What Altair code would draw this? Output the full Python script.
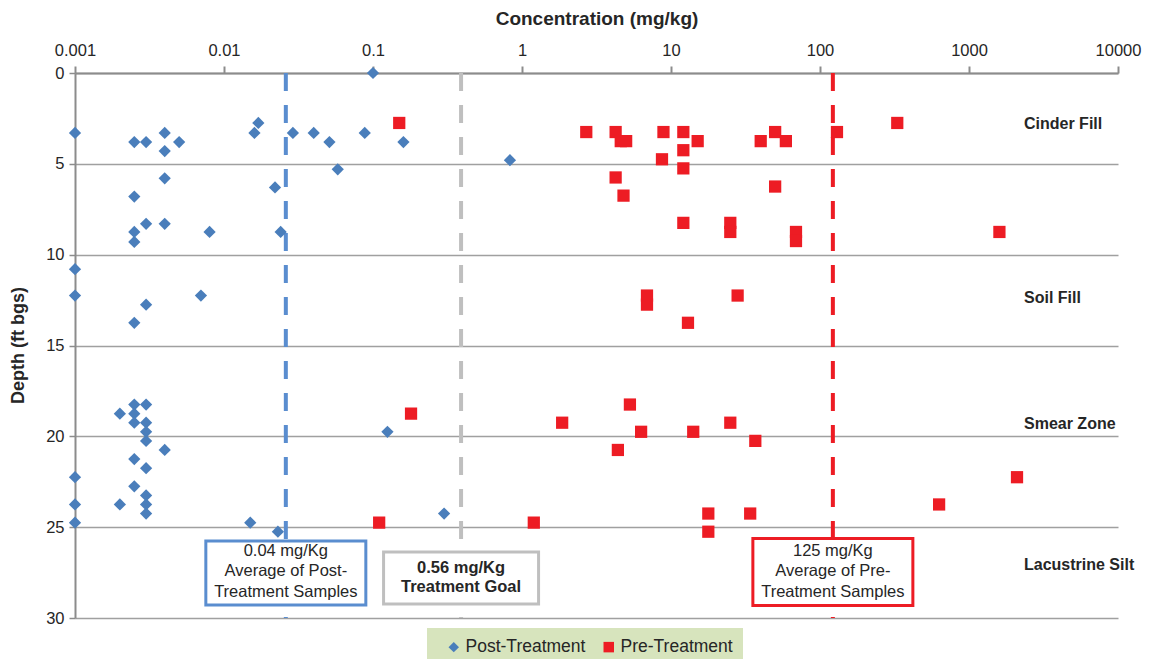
import altair as alt
import pandas as pd

# ---------------- data ----------------
post_conc = [0.1, 0.001, 0.0025, 0.003, 0.004, 0.005, 0.004, 0.004, 0.0025, 0.003, 0.004, 0.0025, 0.0025, 0.008,
             0.016, 0.017, 0.022, 0.024, 0.029, 0.04, 0.051, 0.058, 0.088, 0.16, 0.83,
             0.001, 0.001, 0.007, 0.003, 0.0025,
             0.0025, 0.003, 0.002, 0.0025, 0.0025, 0.003, 0.003, 0.003, 0.004, 0.0025, 0.003, 0.001, 0.0025, 0.003,
             0.001, 0.002, 0.003, 0.003, 0.001, 0.015, 0.023, 0.125, 0.3]
post_depth = [0, 3.3, 3.8, 3.8, 3.3, 3.8, 4.3, 5.8, 6.8, 8.3, 8.3, 8.75, 9.3, 8.75,
              3.3, 2.75, 6.3, 8.75, 3.3, 3.3, 3.8, 5.3, 3.3, 3.8, 4.8,
              10.8, 12.25, 12.25, 12.75, 13.75,
              18.25, 18.25, 18.75, 18.75, 19.25, 19.25, 19.75, 20.25, 20.75, 21.25, 21.75, 22.25, 22.75, 23.25,
              23.75, 23.75, 23.75, 24.25, 24.75, 24.75, 25.25, 19.75, 24.25]

pre_conc = [0.15, 2.7, 4.25, 4.6, 5.0, 8.9, 4.25, 4.8, 8.7, 12.1, 15.1, 12.1, 12.1, 40, 50, 59, 130, 330, 50,
            12.1, 25, 25, 69, 69, 1600,
            6.9, 6.9, 28, 13,
            0.18, 1.86, 5.3, 6.3, 4.4, 14.1, 25, 36.8,
            0.11, 1.2, 17.8, 17.8, 34, 630, 2100]
pre_depth = [2.75, 3.25, 3.25, 3.75, 3.75, 3.25, 5.75, 6.75, 4.75, 3.25, 3.75, 4.25, 5.25, 3.75, 3.25, 3.75, 3.25, 2.75, 6.25,
             8.25, 8.25, 8.75, 8.75, 9.25, 8.75,
             12.25, 12.75, 12.25, 13.75,
             18.75, 19.25, 18.25, 19.75, 20.75, 19.75, 19.25, 20.25,
             24.75, 24.75, 24.25, 25.25, 24.25, 23.75, 22.25]

series_names = ["Post-Treatment", "Pre-Treatment"]

ref_values = [0.026, 0.39, 122]
ref_text = [["0.04 mg/Kg", "Average of Post-", "Treatment Samples"],
            ["0.56 mg/Kg", "Treatment Goal"],
            ["125 mg/Kg", "Average of Pre-", "Treatment Samples"]]
ref_text_depth = [26.31, 27.24, 26.31]
ref_box_depth = [27.52, 27.8, 27.47]

zones = ["Cinder Fill", "Soil Fill", "Smear Zone", "Lacustrine Silt"]
zone_depth = [2.8, 12.38, 19.3, 27.08]

x_ticks = [0.001, 0.01, 0.1, 1, 10, 100, 1000, 10000]
y_ticks = [0, 5, 10, 15, 20, 25, 30]

# ---------------- styles ----------------
FONT = "Liberation Sans"
TXT = "#262626"
series_colors = ["#4a7ebb", "#ed1c24"]
series_shapes = ["diamond", "square"]
ref_colors = ["#5a8dcf", "#bfbfbf", "#ed1c24"]
ref_bold = [False, True, False]
box_w = [160, 155, 160]
box_h = [64, 52, 67]

points = pd.concat([
    pd.DataFrame({"conc": post_conc, "depth": post_depth, "series": series_names[0]}),
    pd.DataFrame({"conc": pre_conc, "depth": pre_depth, "series": series_names[1]}),
])

xscale = alt.Scale(type="log", domain=[0.001, 10000], nice=False)
yscale = alt.Scale(domain=[0, 30], reverse=True, nice=False)

x_axis = alt.Axis(orient="top", values=x_ticks, format="~g", grid=False,
                  domainColor="#8c8c8c", domainWidth=2, tickColor="#8c8c8c", tickWidth=2, tickSize=7,
                  labelFont=FONT, labelFontSize=16.5, labelColor=TXT, labelPadding=8,
                  labelFlush=False, labelOverlap=False,
                  title="Concentration (mg/kg)", titleFont=FONT, titleFontSize=19,
                  titleFontWeight="bold", titleColor=TXT, titleY=-55, titleBaseline="middle")
y_axis = alt.Axis(values=y_ticks, grid=True, gridColor="#a0a0a0", gridWidth=1.5,
                  domainColor="#8c8c8c", domainWidth=2, tickColor="#8c8c8c", tickWidth=1.5, tickSize=6,
                  labelFont=FONT, labelFontSize=16.5, labelColor=TXT, labelPadding=5,
                  title="Depth (ft bgs)", titleFont=FONT, titleFontSize=18,
                  titleFontWeight="bold", titleColor=TXT, titleAngle=270, titleAlign="center",
                  titleBaseline="middle", titleX=-57, titleY=272)

legend = alt.Legend(orient="none", legendX=352, legendY=555, direction="horizontal",
                    fillColor="#d7e4bd", padding=10, symbolOffset=8,
                    labelFont=FONT, labelFontSize=17.5, labelColor=TXT,
                    symbolSize=110, title=None, columnPadding=6, labelOffset=3,
                    symbolStrokeWidth=0)

layers = []

# reference dashed lines
for v, c in zip(ref_values, ref_colors):
    layers.append(
        alt.Chart(pd.DataFrame({"conc": [v]})).mark_rule(color=c, strokeWidth=4, strokeDash=[18, 14])
        .encode(x=alt.X("conc:Q", scale=xscale, axis=x_axis))
    )

# data points
layers.append(
    alt.Chart(points).mark_point(filled=True, opacity=1, size=150, strokeWidth=0).encode(
        x=alt.X("conc:Q", scale=xscale, axis=x_axis),
        y=alt.Y("depth:Q", scale=yscale, axis=y_axis),
        color=alt.Color("series:N", scale=alt.Scale(domain=series_names, range=series_colors), legend=legend),
        shape=alt.Shape("series:N", scale=alt.Scale(domain=series_names, range=series_shapes), legend=legend),
    )
)

# annotation boxes and text
for v, c, bw, bh, bd, td, lines, bold in zip(ref_values, ref_colors, box_w, box_h, ref_box_depth,
                                            ref_text_depth, ref_text, ref_bold):
    layers.append(
        alt.Chart(pd.DataFrame({"conc": [v], "depth": [bd]}))
        .mark_rect(width=bw, height=bh, fill="white", stroke=c, strokeWidth=3)
        .encode(x=alt.X("conc:Q", scale=xscale, axis=x_axis),
                y=alt.Y("depth:Q", scale=yscale, axis=y_axis))
    )
    layers.append(
        alt.Chart(pd.DataFrame({"conc": [v], "depth": [td], "t": ["\n".join(lines)]}))
        .mark_text(lineBreak="\n", font=FONT, fontSize=16.5, lineHeight=20.5 if not bold else 19,
                   fontWeight="bold" if bold else "normal", color=TXT, align="center", baseline="middle")
        .encode(x=alt.X("conc:Q", scale=xscale, axis=x_axis),
                y=alt.Y("depth:Q", scale=yscale, axis=y_axis),
                text="t:N")
    )

# zone labels
layers.append(
    alt.Chart(pd.DataFrame({"zone": zones, "depth": zone_depth}))
    .mark_text(align="left", baseline="middle", font=FONT, fontSize=16, fontWeight="bold", color=TXT)
    .encode(x=alt.value(949), y=alt.Y("depth:Q", scale=yscale, axis=y_axis), text="zone:N")
)

chart = alt.layer(*layers).properties(
    width=1043, height=545,
    padding={"left": 75, "top": 73, "right": 32, "bottom": 41},
    autosize="none",
    background="white",
).configure_view(stroke=None)

chart.save("out.html", embed_options={"renderer": "svg", "actions": False})
